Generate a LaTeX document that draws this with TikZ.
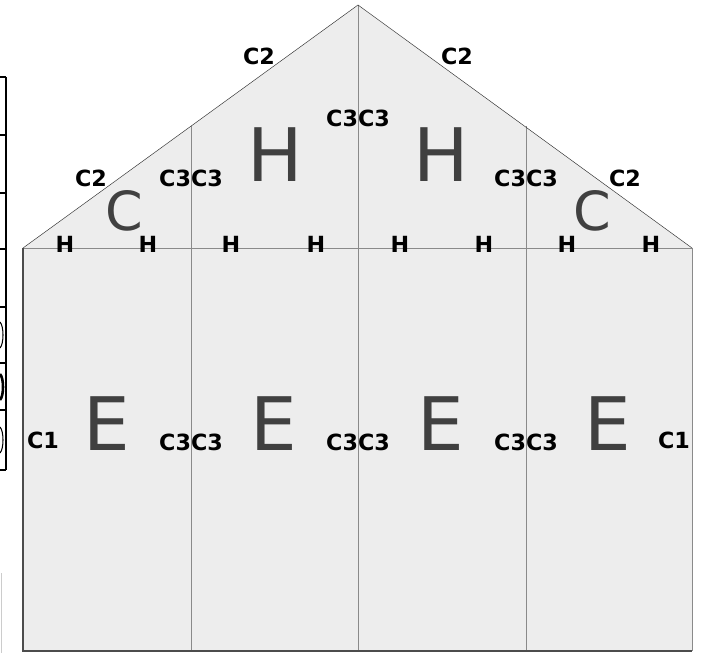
\documentclass[tikz,border=0pt]{standalone}
\usepackage{fontspec}
\setmainfont{DejaVu Sans}
\definecolor{fond}{HTML}{EDEDED}
\definecolor{cloison}{HTML}{8A8A8A}
\definecolor{lettre}{HTML}{404040}
\tikzset{
  zone/.style={anchor=base, text=lettre, font=\fontsize{63}{63}\selectfont},
  zonec/.style={anchor=base, text=lettre, font=\fontsize{46}{46}\selectfont},
  cote/.style={anchor=base, font=\bfseries\fontsize{19}{19}\selectfont},
}
\begin{document}
\begin{tikzpicture}[x=0.03cm, y=-0.03cm]
        \useasboundingbox (0,0) rectangle (702,653);

        % Tableau coupé à gauche
        \draw[line width=1.6pt] (6,77) -- (6,470);
        \foreach \ly in {77,135,193,249,307,363,410,470}
          \draw[line width=1.4pt] (0,\ly) -- (6,\ly);
        \draw[line width=0.9pt] (0,322) .. controls (4,326) and (4,344) .. (0,348);
        \draw[line width=2.2pt] (0,374) .. controls (4,378) and (4,396) .. (0,400);
        \draw[line width=0.9pt] (0,427) .. controls (4,431) and (4,449) .. (0,453);
        \draw[black!20] (1,573) -- (1,653);

        % Coins de la maison
        \coordinate (eaveL) at (23,248);
        \coordinate (eaveR) at (692,248);
        \coordinate (apex) at (358,5);
        \coordinate (footL) at (23,651);
        \coordinate (footR) at (692,651);
        \coordinate (roofA) at (191,126);
        \coordinate (roofB) at (526,126);
        \coordinate (footA) at (191,651);
        \coordinate (footM) at (358,651);
        \coordinate (footB) at (526,651);

        \fill[fond] (eaveL) -- (apex) -- (eaveR) -- (footR) -- (footL) -- cycle;

        % Cloisons
        \draw[cloison] (eaveL) -- (eaveR);
        \draw[cloison] (roofA) -- (footA);
        \draw[cloison] (apex) -- (footM);
        \draw[cloison] (roofB) -- (footB);
        \draw[cloison] (eaveR) -- (footR);

        % Toit et murs extérieurs
        \draw[black!80] (eaveL) -- (apex) -- (eaveR);
        \draw[black!70, line width=2pt] (eaveL) -- (footL) -- (footR);

        % Grandes lettres
        \foreach \ex [count=\i] in {107,274,441,608}
          \node[zone] (E\i) at (\ex,450) {E};
        \node[zone] (H1) at (275,182) {H};
        \node[zone] (H2) at (441,182) {H};
        \node[zonec] (C1) at (124,230) {C};
        \node[zonec] (C2) at (592,230) {C};

        % Petites cotes
        \foreach \hx [count=\i] in {65,148,231,316,400,484,567,651}
          \node[cote] (h\i) at (\hx,253) {H};
        \node[cote, anchor=base west] (c1L) at (23,448) {C1};
        \node[cote, anchor=base east] (c1R) at (694,448) {C1};
        \node[cote] (c3a) at (191,450) {C3C3};
        \node[cote] (c3b) at (358,450) {C3C3};
        \node[cote] (c3c) at (526,450) {C3C3};
        \node[cote] (c3d) at (191,187) {C3C3};
        \node[cote] (c3e) at (526,187) {C3C3};
        \node[cote] (c3f) at (358,127) {C3C3};
        \node[cote] (c2a) at (91,187) {C2};
        \node[cote] (c2b) at (625,187) {C2};
        \node[cote] (c2c) at (259,65) {C2};
        \node[cote] (c2d) at (457,65) {C2};
\end{tikzpicture}
\end{document}
